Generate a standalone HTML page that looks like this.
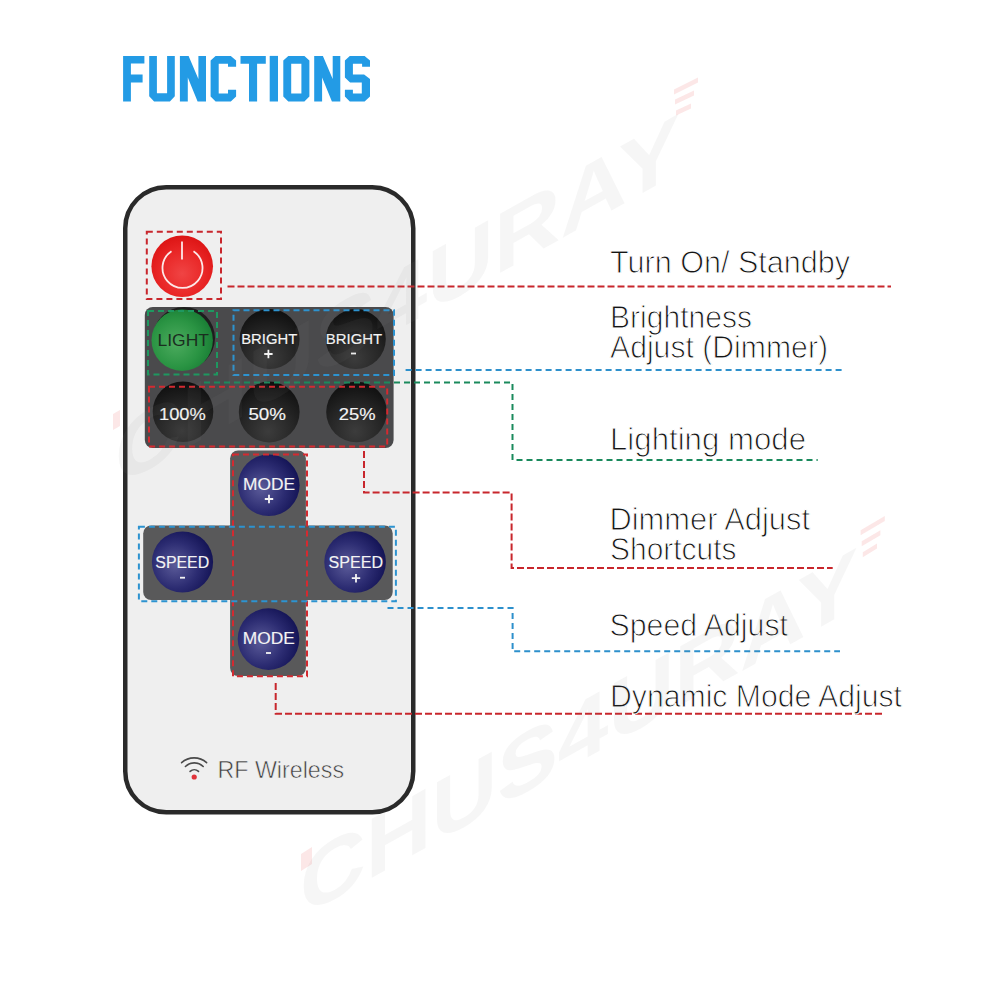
<!DOCTYPE html>
<html><head><meta charset="utf-8">
<style>
html,body{margin:0;padding:0;background:#fff;}
body{width:1000px;height:1000px;overflow:hidden;position:relative;font-family:"Liberation Sans",sans-serif;}
svg{position:absolute;left:0;top:0;}
</style></head>
<body>
<svg width="1000" height="1000" viewBox="0 0 1000 1000" font-family="Liberation Sans, sans-serif">
<defs>
<radialGradient id="gBlack" cx="48%" cy="82%" r="78%">
<stop offset="0" stop-color="#3c3c3c"/><stop offset="0.55" stop-color="#262626"/><stop offset="1" stop-color="#111"/>
</radialGradient>
<radialGradient id="gGreen" cx="40%" cy="55%" r="65%">
<stop offset="0" stop-color="#4cab5e"/><stop offset="0.6" stop-color="#2a9443"/><stop offset="1" stop-color="#177a33"/>
</radialGradient>
<radialGradient id="gNavy" cx="38%" cy="55%" r="68%">
<stop offset="0" stop-color="#5b5b99"/><stop offset="0.55" stop-color="#2c2c72"/><stop offset="1" stop-color="#0f0f50"/>
</radialGradient>
<radialGradient id="gRed" cx="50%" cy="62%" r="62%">
<stop offset="0" stop-color="#f04444"/><stop offset="0.6" stop-color="#e92626"/><stop offset="1" stop-color="#dc1414"/>
</radialGradient>
</defs>

<!-- Title -->
<g fill="#239be5">
<polygon points="123.1,56 144.4,56 144.4,63.5 130.9,63.5 130.9,74.6 142.6,74.6 142.6,82.4 130.9,82.4 130.9,101.5 123.1,101.5"/>
<polygon points="149.2,56 156.9,56 156.9,93.2 167.1,93.2 167.1,56 174.8,56 174.8,96.3 169.9,101.5 154.1,101.5 149.2,96.3"/>
<polygon points="179.9,55.9 188.6,55.9 198.4,79.1 198.4,55.9 206,55.9 206,101.5 197.6,101.5 187.8,77.4 187.8,101.5 179.9,101.5"/>
<polygon points="215.6,55.9 230.8,55.9 236.1,60.4 236.1,66.8 228,66.8 228,63.7 218.7,63.7 218.7,93.4 228,93.4 228,89.8 236.1,89.8 236.1,96.5 230.8,101.5 215.6,101.5 210.6,96.5 210.6,60.4"/>
<polygon points="240.5,55.9 265.8,55.9 265.8,63.7 257.1,63.7 257.1,101.5 249,101.5 249,63.7 240.5,63.7"/>
<polygon points="269.7,55.9 278,55.9 278,101.5 269.7,101.5"/>
<path fill-rule="evenodd" d="M288.3,55.9 H304.4 L309.4,60.4 V96.5 L304.4,101.5 H288.3 L283.3,96.5 V60.4 Z M291.2,63.7 V93.4 H301.4 V63.7 Z"/>
<polygon points="314.2,55.9 322.9,55.9 332.7,79.1 332.7,55.9 340.3,55.9 340.3,101.5 331.9,101.5 322.1,77.4 322.1,101.5 314.2,101.5"/>
<polygon points="349.8,55.9 364.6,55.9 370,60.4 370,66.8 362.1,66.8 362.1,63.7 352.9,63.7 352.9,74.6 364.1,74.6 370,79.1 370,96.5 364.6,101.5 349.8,101.5 344.9,96.5 344.9,89.8 352.9,89.8 352.9,93.4 361.8,93.4 361.8,82.5 350.1,82.5 344.9,77.4 344.9,60.4"/>
</g>

<!-- Remote body -->
<rect x="125.25" y="187.25" width="288" height="625" rx="41" ry="41" fill="#efefef" stroke="#2a2a2a" stroke-width="4.5"/>

<!-- Power button -->
<circle cx="182.2" cy="266.2" r="30.8" fill="url(#gRed)"/>
<path d="M171.5,251.2 A20,20 0 1 0 193.5,251.2" fill="none" stroke="#fde8e8" stroke-width="1.8"/>
<line x1="182" y1="241.5" x2="182" y2="259.5" stroke="#fde8e8" stroke-width="1.8"/>

<!-- Top panel -->
<rect x="144.8" y="307" width="248.8" height="141" rx="8" fill="#4a4a4c"/>
<!-- Cross panel -->
<rect x="230.1" y="450.5" width="75.8" height="225.5" rx="8" fill="#59595a"/>
<rect x="143.2" y="525.4" width="249.5" height="74.6" rx="8" fill="#59595a"/>

<!-- Buttons -->
<circle cx="184" cy="338" r="31" fill="#1d1d1d"/>
<circle cx="182.2" cy="340.2" r="30.7" fill="url(#gGreen)"/>
<circle cx="269.6" cy="339" r="30" fill="url(#gBlack)"/>
<circle cx="355.8" cy="339.1" r="30" fill="url(#gBlack)"/>
<circle cx="183" cy="411.7" r="30.3" fill="url(#gBlack)"/>
<circle cx="269.2" cy="412" r="30.4" fill="url(#gBlack)"/>
<circle cx="356.5" cy="412" r="30.3" fill="url(#gBlack)"/>
<circle cx="268.8" cy="485.3" r="30.8" fill="url(#gNavy)"/>
<circle cx="182.5" cy="562" r="30.6" fill="url(#gNavy)"/>
<circle cx="355.1" cy="562" r="30.8" fill="url(#gNavy)"/>
<circle cx="268.5" cy="639.1" r="30.8" fill="url(#gNavy)"/>

<!-- Button labels -->
<g font-size="16">
<text x="157.5" y="345.5" fill="#1a2e1f" textLength="51.5" lengthAdjust="spacingAndGlyphs">LIGHT</text>
</g>
<g font-size="15" fill="#f4f4f4" stroke="#f4f4f4" stroke-width="0.15">
<text x="241.2" y="344.4" textLength="56" lengthAdjust="spacingAndGlyphs">BRIGHT</text>
<text x="325.8" y="343.8" textLength="56.4" lengthAdjust="spacingAndGlyphs">BRIGHT</text>
</g>
<g font-size="16" fill="#f4f4f4" stroke="#f4f4f4" stroke-width="0.15">
<text x="159" y="419.8" textLength="46.8" lengthAdjust="spacingAndGlyphs">100%</text>
<text x="248.4" y="420.3" textLength="37.6" lengthAdjust="spacingAndGlyphs">50%</text>
<text x="338.8" y="420.3" textLength="36.8" lengthAdjust="spacingAndGlyphs">25%</text>
<text x="243" y="489.5" textLength="52" lengthAdjust="spacingAndGlyphs">MODE</text>
<text x="155.3" y="568.3" textLength="53.9" lengthAdjust="spacingAndGlyphs">SPEED</text>
<text x="328.6" y="568.3" textLength="54.4" lengthAdjust="spacingAndGlyphs">SPEED</text>
<text x="242.8" y="644" textLength="52" lengthAdjust="spacingAndGlyphs">MODE</text>
</g>
<g stroke="#f4f4f4" stroke-width="1.8">
<path d="M264.2,354 H272.6 M268.4,349.8 V358.2"/>
<path d="M351,353.5 H356"/>
<path d="M264.8,499 H273.2 M269,494.8 V503.2"/>
<path d="M180,577.7 H185"/>
<path d="M351.8,578.2 H360.2 M356,574 V582.4"/>
<path d="M266,653 H271"/>
</g>

<!-- Dashed boxes -->
<g fill="none" stroke-width="2">
<rect x="146.8" y="231.8" width="74.2" height="67.2" stroke="#c8262c" stroke-dasharray="6 4"/>
<rect x="148" y="311" width="69" height="63.5" stroke="#1e9860" stroke-dasharray="6 4"/>
<rect x="233.5" y="310.2" width="160.5" height="64.8" stroke="#2d93d0" stroke-dasharray="6 4"/>
<rect x="149" y="386.8" width="238.2" height="59.7" stroke="#d42a30" stroke-dasharray="6 4"/>
<rect x="233" y="454.4" width="74" height="221.9" stroke="#d42a30" stroke-dasharray="6 4"/>
<rect x="138.9" y="526.8" width="257" height="74.4" stroke="#2d93d0" stroke-dasharray="6 4"/>
</g>

<!-- Connectors -->
<g fill="none" stroke-width="2">
<path d="M227.5,286.5 H891" stroke="#c8262c" stroke-dasharray="7 3"/>
<path d="M405.6,370 H843" stroke="#2d90cc" stroke-dasharray="6 4"/>
<path d="M204,382.5 H512.5 V460 H817.7" stroke="#1a8a5c" stroke-dasharray="6 4"/>
<path d="M364,451 V492.4 H511.6 V568 H832.7" stroke="#c8262c" stroke-dasharray="7 3"/>
<path d="M387.5,608 H512.6 V651.3 H840" stroke="#2d90cc" stroke-dasharray="6 4"/>
<path d="M275.7,683 V713.7 H884.8" stroke="#c8262c" stroke-dasharray="7 3"/>
</g>

<!-- RF Wireless -->
<g fill="none" stroke="#4a4a4a" stroke-width="1.6" stroke-linecap="round">
<path d="M181.6,762.6 A18.9,18.9 0 0 1 206.6,762.6"/>
<path d="M185.4,766.5 A12.8,12.8 0 0 1 203.2,766.5"/>
<path d="M190.1,771.4 A6.3,6.3 0 0 1 198.5,771.4"/>
</g>
<circle cx="194.2" cy="777" r="2.6" fill="#e0333a"/>
<text x="217.5" y="778.3" font-size="24.5" fill="#3c3c3c" stroke="#efefef" stroke-width="0.6" textLength="126.5" lengthAdjust="spacingAndGlyphs">RF Wireless</text>

<!-- Labels -->
<g font-size="30.5" fill="#151515" stroke="#fff" stroke-width="0.95">
<text x="610.0" y="272.6" textLength="240.0" lengthAdjust="spacingAndGlyphs">Turn On/ Standby</text>
<text x="610.0" y="328.1" textLength="142.0" lengthAdjust="spacingAndGlyphs">Brightness</text>
<text x="610.0" y="357.9" textLength="218.0" lengthAdjust="spacingAndGlyphs">Adjust (Dimmer)</text>
<text x="610.0" y="449.8" textLength="196.0" lengthAdjust="spacingAndGlyphs">Lighting mode</text>
<text x="609.5" y="530" textLength="200.5" lengthAdjust="spacingAndGlyphs">Dimmer Adjust</text>
<text x="610.0" y="560" textLength="126.5" lengthAdjust="spacingAndGlyphs">Shortcuts</text>
<text x="609.5" y="635.8" textLength="178.5" lengthAdjust="spacingAndGlyphs">Speed Adjust</text>
<text x="610.0" y="707.3" textLength="292.0" lengthAdjust="spacingAndGlyphs">Dynamic Mode Adjust</text>
</g>
<!-- Watermark -->
<g font-family="Liberation Sans, sans-serif" font-weight="bold" fill="#8c8c8c" fill-opacity="0.075" font-size="86">
<text transform="translate(115,488) skewY(-29.2)" textLength="565" lengthAdjust="spacingAndGlyphs">CHUS4URAY</text>
<text transform="translate(300,918) skewY(-29.2)" textLength="558" lengthAdjust="spacingAndGlyphs">CHUS4URAY</text>
</g>
<g fill="#e02828" fill-opacity="0.11">
<polygon points="674,89.5 698,77.5 698,82.5 674,94.5"/>
<polygon points="675,99.5 694,90.5 694,95.5 675,104.5"/>
<polygon points="676,110.5 691,103.5 691,108.5 676,115.5"/>
<polygon points="860.6,530.3 884.8,516 884.8,521 860.6,535.3"/>
<polygon points="861.7,541.3 880.4,530.3 880.4,535.3 861.7,546.3"/>
<polygon points="862.8,552.3 877,543.5 877,548.5 862.8,557.3"/>
<polygon points="301,854 312,847 312,864 301,871"/>
<polygon points="113,414 120,410 120,426 113,430"/>
</g>
</svg>
</body></html>
